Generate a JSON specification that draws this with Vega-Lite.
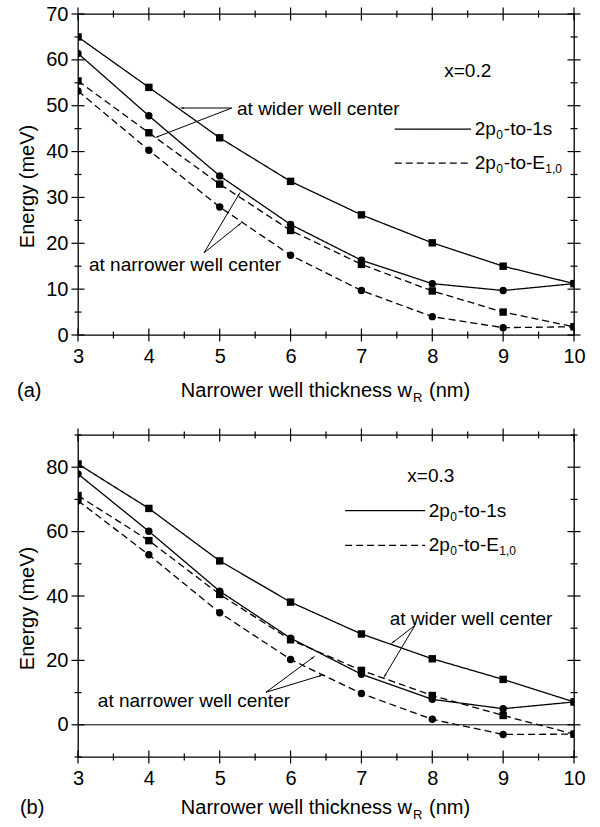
{
  "$schema": "https://vega.github.io/schema/vega-lite/v6.json",
  "padding": {"left": 16, "top": 3, "right": 5, "bottom": 5},
  "bounds": "flush",
  "spacing": 100,
  "config": {
    "view": {"stroke": "black", "strokeWidth": 1.3},
    "axis": {"labelFont": "Liberation Sans", "titleFont": "Liberation Sans", "labelFontSize": 20, "titleFontSize": 20, "titleFontWeight": "normal", "labelColor": "black", "titleColor": "black", "grid": false, "domain": false, "ticks": false},
    "text": {"font": "Liberation Sans", "color": "black"}
  },
  "datasets": {
    "xticks": [
      {"v": 3, "kind": "major"}, {"v": 3.5, "kind": "minor"}, {"v": 4, "kind": "major"}, {"v": 4.5, "kind": "minor"},
      {"v": 5, "kind": "major"}, {"v": 5.5, "kind": "minor"}, {"v": 6, "kind": "major"}, {"v": 6.5, "kind": "minor"},
      {"v": 7, "kind": "major"}, {"v": 7.5, "kind": "minor"}, {"v": 8, "kind": "major"}, {"v": 8.5, "kind": "minor"},
      {"v": 9, "kind": "major"}, {"v": 9.5, "kind": "minor"}, {"v": 10, "kind": "major"}
    ],
    "yticksA": [
      {"v": 0, "kind": "major"}, {"v": 5, "kind": "minor"}, {"v": 10, "kind": "major"}, {"v": 15, "kind": "minor"},
      {"v": 20, "kind": "major"}, {"v": 25, "kind": "minor"}, {"v": 30, "kind": "major"}, {"v": 35, "kind": "minor"},
      {"v": 40, "kind": "major"}, {"v": 45, "kind": "minor"}, {"v": 50, "kind": "major"}, {"v": 55, "kind": "minor"},
      {"v": 60, "kind": "major"}, {"v": 65, "kind": "minor"}, {"v": 70, "kind": "major"}
    ],
    "yticksB": [
      {"v": -10, "kind": "minor"}, {"v": 0, "kind": "major"}, {"v": 10, "kind": "minor"}, {"v": 20, "kind": "major"},
      {"v": 30, "kind": "minor"}, {"v": 40, "kind": "major"}, {"v": 50, "kind": "minor"}, {"v": 60, "kind": "major"},
      {"v": 70, "kind": "minor"}, {"v": 80, "kind": "major"}, {"v": 90, "kind": "minor"}
    ],
    "seriesA": [
      {"w": 3, "E": 65.0, "center": "wider", "transition": "2p0-to-1s"},
      {"w": 4, "E": 54.0, "center": "wider", "transition": "2p0-to-1s"},
      {"w": 5, "E": 43.0, "center": "wider", "transition": "2p0-to-1s"},
      {"w": 6, "E": 33.5, "center": "wider", "transition": "2p0-to-1s"},
      {"w": 7, "E": 26.2, "center": "wider", "transition": "2p0-to-1s"},
      {"w": 8, "E": 20.1, "center": "wider", "transition": "2p0-to-1s"},
      {"w": 9, "E": 15.0, "center": "wider", "transition": "2p0-to-1s"},
      {"w": 10, "E": 11.2, "center": "wider", "transition": "2p0-to-1s"},
      {"w": 3, "E": 61.4, "center": "narrower", "transition": "2p0-to-1s"},
      {"w": 4, "E": 47.8, "center": "narrower", "transition": "2p0-to-1s"},
      {"w": 5, "E": 34.7, "center": "narrower", "transition": "2p0-to-1s"},
      {"w": 6, "E": 24.1, "center": "narrower", "transition": "2p0-to-1s"},
      {"w": 7, "E": 16.3, "center": "narrower", "transition": "2p0-to-1s"},
      {"w": 8, "E": 11.2, "center": "narrower", "transition": "2p0-to-1s"},
      {"w": 9, "E": 9.7, "center": "narrower", "transition": "2p0-to-1s"},
      {"w": 10, "E": 11.2, "center": "narrower", "transition": "2p0-to-1s"},
      {"w": 3, "E": 55.4, "center": "wider", "transition": "2p0-to-E1,0"},
      {"w": 4, "E": 44.1, "center": "wider", "transition": "2p0-to-E1,0"},
      {"w": 5, "E": 32.9, "center": "wider", "transition": "2p0-to-E1,0"},
      {"w": 6, "E": 22.8, "center": "wider", "transition": "2p0-to-E1,0"},
      {"w": 7, "E": 15.4, "center": "wider", "transition": "2p0-to-E1,0"},
      {"w": 8, "E": 9.6, "center": "wider", "transition": "2p0-to-E1,0"},
      {"w": 9, "E": 5.0, "center": "wider", "transition": "2p0-to-E1,0"},
      {"w": 10, "E": 1.8, "center": "wider", "transition": "2p0-to-E1,0"},
      {"w": 3, "E": 53.2, "center": "narrower", "transition": "2p0-to-E1,0"},
      {"w": 4, "E": 40.3, "center": "narrower", "transition": "2p0-to-E1,0"},
      {"w": 5, "E": 27.9, "center": "narrower", "transition": "2p0-to-E1,0"},
      {"w": 6, "E": 17.4, "center": "narrower", "transition": "2p0-to-E1,0"},
      {"w": 7, "E": 9.7, "center": "narrower", "transition": "2p0-to-E1,0"},
      {"w": 8, "E": 4.0, "center": "narrower", "transition": "2p0-to-E1,0"},
      {"w": 9, "E": 1.6, "center": "narrower", "transition": "2p0-to-E1,0"},
      {"w": 10, "E": 1.8, "center": "narrower", "transition": "2p0-to-E1,0"}
    ],
    "seriesB": [
      {"w": 3, "E": 81.0, "center": "wider", "transition": "2p0-to-1s"},
      {"w": 4, "E": 67.2, "center": "wider", "transition": "2p0-to-1s"},
      {"w": 5, "E": 50.9, "center": "wider", "transition": "2p0-to-1s"},
      {"w": 6, "E": 38.1, "center": "wider", "transition": "2p0-to-1s"},
      {"w": 7, "E": 28.2, "center": "wider", "transition": "2p0-to-1s"},
      {"w": 8, "E": 20.5, "center": "wider", "transition": "2p0-to-1s"},
      {"w": 9, "E": 14.1, "center": "wider", "transition": "2p0-to-1s"},
      {"w": 10, "E": 7.1, "center": "wider", "transition": "2p0-to-1s"},
      {"w": 3, "E": 77.9, "center": "narrower", "transition": "2p0-to-1s"},
      {"w": 4, "E": 60.1, "center": "narrower", "transition": "2p0-to-1s"},
      {"w": 5, "E": 41.5, "center": "narrower", "transition": "2p0-to-1s"},
      {"w": 6, "E": 26.9, "center": "narrower", "transition": "2p0-to-1s"},
      {"w": 7, "E": 15.7, "center": "narrower", "transition": "2p0-to-1s"},
      {"w": 8, "E": 7.9, "center": "narrower", "transition": "2p0-to-1s"},
      {"w": 9, "E": 5.0, "center": "narrower", "transition": "2p0-to-1s"},
      {"w": 10, "E": 7.1, "center": "narrower", "transition": "2p0-to-1s"},
      {"w": 3, "E": 71.2, "center": "wider", "transition": "2p0-to-E1,0"},
      {"w": 4, "E": 57.2, "center": "wider", "transition": "2p0-to-E1,0"},
      {"w": 5, "E": 40.5, "center": "wider", "transition": "2p0-to-E1,0"},
      {"w": 6, "E": 26.4, "center": "wider", "transition": "2p0-to-E1,0"},
      {"w": 7, "E": 16.9, "center": "wider", "transition": "2p0-to-E1,0"},
      {"w": 8, "E": 9.1, "center": "wider", "transition": "2p0-to-E1,0"},
      {"w": 9, "E": 2.9, "center": "wider", "transition": "2p0-to-E1,0"},
      {"w": 10, "E": -2.9, "center": "wider", "transition": "2p0-to-E1,0"},
      {"w": 3, "E": 69.6, "center": "narrower", "transition": "2p0-to-E1,0"},
      {"w": 4, "E": 52.8, "center": "narrower", "transition": "2p0-to-E1,0"},
      {"w": 5, "E": 34.8, "center": "narrower", "transition": "2p0-to-E1,0"},
      {"w": 6, "E": 20.3, "center": "narrower", "transition": "2p0-to-E1,0"},
      {"w": 7, "E": 9.7, "center": "narrower", "transition": "2p0-to-E1,0"},
      {"w": 8, "E": 1.7, "center": "narrower", "transition": "2p0-to-E1,0"},
      {"w": 9, "E": -3.0, "center": "narrower", "transition": "2p0-to-E1,0"},
      {"w": 10, "E": -2.9, "center": "narrower", "transition": "2p0-to-E1,0"}
    ]
  },
  "vconcat": [
    {
      "width": 496, "height": 321,
      "layer": [
        {
          "data": {"name": "seriesA"},
          "mark": {"type": "line", "color": "black", "strokeWidth": 1.3, "clip": true},
          "encoding": {
            "x": {"field": "w", "type": "quantitative", "scale": {"domain": [3, 10], "nice": false, "zero": false},
              "axis": {"orient": "bottom", "title": null, "format": "d", "values": [3, 4, 5, 6, 7, 8, 9, 10], "labelPadding": 11.5, "labelFlush": false, "labelOverlap": false}},
            "y": {"field": "E", "type": "quantitative", "scale": {"domain": [0, 70], "nice": false, "zero": false},
              "axis": {"orient": "left", "title": "Energy (meV)", "titleY": 172, "titlePadding": 8, "values": [0, 10, 20, 30, 40, 50, 60, 70], "labelPadding": 10, "labelFlush": false, "labelOverlap": false}},
            "strokeDash": {"field": "transition", "type": "nominal", "scale": {"domain": ["2p0-to-1s", "2p0-to-E1,0"], "range": [[1, 0], [7, 4]]}, "legend": null},
            "detail": {"field": "center"}
          }
        },
        {
          "data": {"name": "seriesA"},
          "mark": {"type": "point", "filled": true, "color": "black", "opacity": 1, "size": 55, "clip": true},
          "encoding": {
            "x": {"field": "w", "type": "quantitative", "scale": {"domain": [3, 10]}},
            "y": {"field": "E", "type": "quantitative", "scale": {"domain": [0, 70]}},
            "shape": {"field": "center", "type": "nominal", "scale": {"domain": ["wider", "narrower"], "range": ["square", "circle"]}, "legend": null}
          }
        },
        {
          "data": {"name": "xticks"},
          "layer": [
            {"mark": {"type": "tick", "orient": "vertical", "thickness": 1.2, "color": "black", "opacity": 1},
             "encoding": {"x": {"field": "v", "type": "quantitative", "scale": {"domain": [3, 10]}}, "y": {"datum": 0, "type": "quantitative", "scale": {"domain": [0, 70]}}, "size": {"field": "kind", "type": "ordinal", "scale": {"domain": ["major", "minor"], "range": [13, 7]}, "legend": null}}},
            {"mark": {"type": "tick", "orient": "vertical", "thickness": 1.2, "color": "black", "opacity": 1},
             "encoding": {"x": {"field": "v", "type": "quantitative", "scale": {"domain": [3, 10]}}, "y": {"datum": 70, "type": "quantitative", "scale": {"domain": [0, 70]}}, "size": {"field": "kind", "type": "ordinal", "scale": {"domain": ["major", "minor"], "range": [13, 7]}, "legend": null}}}
          ]
        },
        {
          "data": {"name": "yticksA"},
          "layer": [
            {"mark": {"type": "tick", "orient": "horizontal", "thickness": 1.2, "color": "black", "opacity": 1},
             "encoding": {"y": {"field": "v", "type": "quantitative", "scale": {"domain": [0, 70]}}, "x": {"datum": 3, "type": "quantitative", "scale": {"domain": [3, 10]}}, "size": {"field": "kind", "type": "ordinal", "scale": {"domain": ["major", "minor"], "range": [13, 7]}, "legend": null}}},
            {"mark": {"type": "tick", "orient": "horizontal", "thickness": 1.2, "color": "black", "opacity": 1},
             "encoding": {"y": {"field": "v", "type": "quantitative", "scale": {"domain": [0, 70]}}, "x": {"datum": 10, "type": "quantitative", "scale": {"domain": [3, 10]}}, "size": {"field": "kind", "type": "ordinal", "scale": {"domain": ["major", "minor"], "range": [13, 7]}, "legend": null}}}
          ]
        },
        {
          "data": {"values": [
            {"x": 7.47, "x2": 8.546, "y": 44.9, "transition": "2p0-to-1s"},
            {"x": 7.47, "x2": 8.546, "y": 37.5, "transition": "2p0-to-E1,0"}
          ]},
          "mark": {"type": "rule", "color": "black", "strokeWidth": 1.2},
          "encoding": {
            "x": {"field": "x", "type": "quantitative", "scale": {"domain": [3, 10]}},
            "x2": {"field": "x2"},
            "y": {"field": "y", "type": "quantitative", "scale": {"domain": [0, 70]}},
            "strokeDash": {"field": "transition", "type": "nominal", "scale": {"domain": ["2p0-to-1s", "2p0-to-E1,0"], "range": [[1, 0], [7, 4]]}, "legend": null}
          }
        },
        {
          "data": {"values": [
            {"x": 8.60, "y": 44.9, "head": "2p", "sub": "0", "tail": "-to-1s", "sub2": ""},
            {"x": 8.60, "y": 37.5, "head": "2p", "sub": "0", "tail": "-to-E", "sub2": "1,0"}
          ]},
          "layer": [
            {"mark": {"type": "text", "align": "left", "baseline": "middle", "fontSize": 19},
             "encoding": {"x": {"field": "x", "type": "quantitative", "scale": {"domain": [3, 10]}}, "y": {"field": "y", "type": "quantitative", "scale": {"domain": [0, 70]}}, "text": {"field": "head"}}},
            {"mark": {"type": "text", "align": "left", "baseline": "middle", "fontSize": 12, "dx": 21.5, "dy": 6},
             "encoding": {"x": {"field": "x", "type": "quantitative", "scale": {"domain": [3, 10]}}, "y": {"field": "y", "type": "quantitative", "scale": {"domain": [0, 70]}}, "text": {"field": "sub"}}},
            {"mark": {"type": "text", "align": "left", "baseline": "middle", "fontSize": 19, "dx": 29},
             "encoding": {"x": {"field": "x", "type": "quantitative", "scale": {"domain": [3, 10]}}, "y": {"field": "y", "type": "quantitative", "scale": {"domain": [0, 70]}}, "text": {"field": "tail"}}},
            {"mark": {"type": "text", "align": "left", "baseline": "middle", "fontSize": 12, "dx": 70.5, "dy": 6},
             "encoding": {"x": {"field": "x", "type": "quantitative", "scale": {"domain": [3, 10]}}, "y": {"field": "y", "type": "quantitative", "scale": {"domain": [0, 70]}}, "text": {"field": "sub2"}}}
          ]
        },
        {
          "data": {"values": [{"x": 8.50, "y": 57.6, "label": "x=0.2"}]},
          "mark": {"type": "text", "align": "center", "baseline": "middle", "fontSize": 19},
          "encoding": {"x": {"field": "x", "type": "quantitative", "scale": {"domain": [3, 10]}}, "y": {"field": "y", "type": "quantitative", "scale": {"domain": [0, 70]}}, "text": {"field": "label"}}
        },
        {
          "data": {"values": [
            {"x": 5.244, "y": 49.3, "label": "at wider well center"},
            {"x": 3.155, "y": 15.3, "label": "at narrower well center"}
          ]},
          "mark": {"type": "text", "align": "left", "baseline": "middle", "fontSize": 19},
          "encoding": {"x": {"field": "x", "type": "quantitative", "scale": {"domain": [3, 10]}}, "y": {"field": "y", "type": "quantitative", "scale": {"domain": [0, 70]}}, "text": {"field": "label"}}
        },
        {
          "data": {"values": [
            {"x": 5.17, "y": 49.5, "x2": 4.468, "y2": 49.5, "heading": 270},
            {"x": 5.17, "y": 49.5, "x2": 4.115, "y2": 43.2, "heading": 249},
            {"x": 4.778, "y": 17.9, "x2": 5.272, "y2": 30.7, "heading": 31},
            {"x": 4.778, "y": 17.9, "x2": 5.286, "y2": 24.2, "heading": 51}
          ]},
          "layer": [
            {"mark": {"type": "rule", "color": "black", "strokeWidth": 1},
             "encoding": {"x": {"field": "x", "type": "quantitative", "scale": {"domain": [3, 10]}}, "y": {"field": "y", "type": "quantitative", "scale": {"domain": [0, 70]}}, "x2": {"field": "x2"}, "y2": {"field": "y2"}}},
            {"mark": {"type": "point", "shape": "wedge", "filled": true, "color": "black", "opacity": 1, "size": 40},
             "encoding": {"x": {"field": "x2", "type": "quantitative", "scale": {"domain": [3, 10]}}, "y": {"field": "y2", "type": "quantitative", "scale": {"domain": [0, 70]}}, "angle": {"field": "heading", "type": "quantitative", "scale": null}}}
          ]
        },
        {
          "data": {"values": [{"x": 7.714, "y": -12.2, "main": "Narrower well thickness w", "sub": "R", "unit": "(nm)", "tag_x": 2.139, "tag": "(a)"}]},
          "layer": [
            {"mark": {"type": "text", "align": "right", "baseline": "middle", "fontSize": 20},
             "encoding": {"x": {"field": "x", "type": "quantitative", "scale": {"domain": [3, 10]}}, "y": {"field": "y", "type": "quantitative", "scale": {"domain": [0, 70]}}, "text": {"field": "main"}}},
            {"mark": {"type": "text", "align": "left", "baseline": "middle", "fontSize": 13, "dx": 1, "dy": 7},
             "encoding": {"x": {"field": "x", "type": "quantitative", "scale": {"domain": [3, 10]}}, "y": {"field": "y", "type": "quantitative", "scale": {"domain": [0, 70]}}, "text": {"field": "sub"}}},
            {"mark": {"type": "text", "align": "left", "baseline": "middle", "fontSize": 20, "dx": 17},
             "encoding": {"x": {"field": "x", "type": "quantitative", "scale": {"domain": [3, 10]}}, "y": {"field": "y", "type": "quantitative", "scale": {"domain": [0, 70]}}, "text": {"field": "unit"}}},
            {"mark": {"type": "text", "align": "left", "baseline": "middle", "fontSize": 20},
             "encoding": {"x": {"field": "tag_x", "type": "quantitative", "scale": {"domain": [3, 10]}}, "y": {"field": "y", "type": "quantitative", "scale": {"domain": [0, 70]}}, "text": {"field": "tag"}}}
          ]
        }
      ]
    },
    {
      "width": 496, "height": 322,
      "layer": [
        {
          "data": {"name": "seriesB"},
          "mark": {"type": "line", "color": "black", "strokeWidth": 1.3, "clip": true},
          "encoding": {
            "x": {"field": "w", "type": "quantitative", "scale": {"domain": [3, 10], "nice": false, "zero": false},
              "axis": {"orient": "bottom", "title": null, "format": "d", "values": [3, 4, 5, 6, 7, 8, 9, 10], "labelPadding": 11.5, "labelFlush": false, "labelOverlap": false}},
            "y": {"field": "E", "type": "quantitative", "scale": {"domain": [-10, 90], "nice": false, "zero": false},
              "axis": {"orient": "left", "title": "Energy (meV)", "titleY": 173, "titlePadding": 8, "values": [0, 20, 40, 60, 80], "labelPadding": 10, "labelFlush": false, "labelOverlap": false}},
            "strokeDash": {"field": "transition", "type": "nominal", "scale": {"domain": ["2p0-to-1s", "2p0-to-E1,0"], "range": [[1, 0], [7, 4]]}, "legend": null},
            "detail": {"field": "center"}
          }
        },
        {
          "data": {"values": [{"E": 0}]},
          "mark": {"type": "rule", "color": "black", "strokeWidth": 1},
          "encoding": {"y": {"field": "E", "type": "quantitative", "scale": {"domain": [-10, 90]}}}
        },
        {
          "data": {"name": "seriesB"},
          "mark": {"type": "point", "filled": true, "color": "black", "opacity": 1, "size": 55, "clip": true},
          "encoding": {
            "x": {"field": "w", "type": "quantitative", "scale": {"domain": [3, 10]}},
            "y": {"field": "E", "type": "quantitative", "scale": {"domain": [-10, 90]}},
            "shape": {"field": "center", "type": "nominal", "scale": {"domain": ["wider", "narrower"], "range": ["square", "circle"]}, "legend": null}
          }
        },
        {
          "data": {"name": "xticks"},
          "layer": [
            {"mark": {"type": "tick", "orient": "vertical", "thickness": 1.2, "color": "black", "opacity": 1},
             "encoding": {"x": {"field": "v", "type": "quantitative", "scale": {"domain": [3, 10]}}, "y": {"datum": -10, "type": "quantitative", "scale": {"domain": [-10, 90]}}, "size": {"field": "kind", "type": "ordinal", "scale": {"domain": ["major", "minor"], "range": [13, 7]}, "legend": null}}},
            {"mark": {"type": "tick", "orient": "vertical", "thickness": 1.2, "color": "black", "opacity": 1},
             "encoding": {"x": {"field": "v", "type": "quantitative", "scale": {"domain": [3, 10]}}, "y": {"datum": 90, "type": "quantitative", "scale": {"domain": [-10, 90]}}, "size": {"field": "kind", "type": "ordinal", "scale": {"domain": ["major", "minor"], "range": [13, 7]}, "legend": null}}}
          ]
        },
        {
          "data": {"name": "yticksB"},
          "layer": [
            {"mark": {"type": "tick", "orient": "horizontal", "thickness": 1.2, "color": "black", "opacity": 1},
             "encoding": {"y": {"field": "v", "type": "quantitative", "scale": {"domain": [-10, 90]}}, "x": {"datum": 3, "type": "quantitative", "scale": {"domain": [3, 10]}}, "size": {"field": "kind", "type": "ordinal", "scale": {"domain": ["major", "minor"], "range": [13, 7]}, "legend": null}}},
            {"mark": {"type": "tick", "orient": "horizontal", "thickness": 1.2, "color": "black", "opacity": 1},
             "encoding": {"y": {"field": "v", "type": "quantitative", "scale": {"domain": [-10, 90]}}, "x": {"datum": 10, "type": "quantitative", "scale": {"domain": [3, 10]}}, "size": {"field": "kind", "type": "ordinal", "scale": {"domain": ["major", "minor"], "range": [13, 7]}, "legend": null}}}
          ]
        },
        {
          "data": {"values": [
            {"x": 6.77, "x2": 7.90, "y": 66.5, "transition": "2p0-to-1s"},
            {"x": 6.77, "x2": 7.90, "y": 55.7, "transition": "2p0-to-E1,0"}
          ]},
          "mark": {"type": "rule", "color": "black", "strokeWidth": 1.2},
          "encoding": {
            "x": {"field": "x", "type": "quantitative", "scale": {"domain": [3, 10]}},
            "x2": {"field": "x2"},
            "y": {"field": "y", "type": "quantitative", "scale": {"domain": [-10, 90]}},
            "strokeDash": {"field": "transition", "type": "nominal", "scale": {"domain": ["2p0-to-1s", "2p0-to-E1,0"], "range": [[1, 0], [7, 4]]}, "legend": null}
          }
        },
        {
          "data": {"values": [
            {"x": 7.95, "y": 66.5, "head": "2p", "sub": "0", "tail": "-to-1s", "sub2": ""},
            {"x": 7.95, "y": 55.7, "head": "2p", "sub": "0", "tail": "-to-E", "sub2": "1,0"}
          ]},
          "layer": [
            {"mark": {"type": "text", "align": "left", "baseline": "middle", "fontSize": 19},
             "encoding": {"x": {"field": "x", "type": "quantitative", "scale": {"domain": [3, 10]}}, "y": {"field": "y", "type": "quantitative", "scale": {"domain": [-10, 90]}}, "text": {"field": "head"}}},
            {"mark": {"type": "text", "align": "left", "baseline": "middle", "fontSize": 12, "dx": 21.5, "dy": 6},
             "encoding": {"x": {"field": "x", "type": "quantitative", "scale": {"domain": [3, 10]}}, "y": {"field": "y", "type": "quantitative", "scale": {"domain": [-10, 90]}}, "text": {"field": "sub"}}},
            {"mark": {"type": "text", "align": "left", "baseline": "middle", "fontSize": 19, "dx": 29},
             "encoding": {"x": {"field": "x", "type": "quantitative", "scale": {"domain": [3, 10]}}, "y": {"field": "y", "type": "quantitative", "scale": {"domain": [-10, 90]}}, "text": {"field": "tail"}}},
            {"mark": {"type": "text", "align": "left", "baseline": "middle", "fontSize": 12, "dx": 70.5, "dy": 6},
             "encoding": {"x": {"field": "x", "type": "quantitative", "scale": {"domain": [3, 10]}}, "y": {"field": "y", "type": "quantitative", "scale": {"domain": [-10, 90]}}, "text": {"field": "sub2"}}}
          ]
        },
        {
          "data": {"values": [{"x": 7.98, "y": 77.4, "label": "x=0.3"}]},
          "mark": {"type": "text", "align": "center", "baseline": "middle", "fontSize": 19},
          "encoding": {"x": {"field": "x", "type": "quantitative", "scale": {"domain": [3, 10]}}, "y": {"field": "y", "type": "quantitative", "scale": {"domain": [-10, 90]}}, "text": {"field": "label"}}
        },
        {
          "data": {"values": [
            {"x": 7.40, "y": 33.0, "label": "at wider well center"},
            {"x": 3.28, "y": 7.3, "label": "at narrower well center"}
          ]},
          "mark": {"type": "text", "align": "left", "baseline": "middle", "fontSize": 19},
          "encoding": {"x": {"field": "x", "type": "quantitative", "scale": {"domain": [3, 10]}}, "y": {"field": "y", "type": "quantitative", "scale": {"domain": [-10, 90]}}, "text": {"field": "label"}}
        },
        {
          "data": {"values": [
            {"x": 7.756, "y": 30.9, "x2": 7.445, "y2": 25.6, "heading": 232},
            {"x": 7.756, "y": 30.9, "x2": 7.332, "y2": 15.3, "heading": 211},
            {"x": 5.653, "y": 10.1, "x2": 6.316, "y2": 20.9, "heading": 53},
            {"x": 5.653, "y": 10.1, "x2": 6.429, "y2": 15.3, "heading": 73}
          ]},
          "layer": [
            {"mark": {"type": "rule", "color": "black", "strokeWidth": 1},
             "encoding": {"x": {"field": "x", "type": "quantitative", "scale": {"domain": [3, 10]}}, "y": {"field": "y", "type": "quantitative", "scale": {"domain": [-10, 90]}}, "x2": {"field": "x2"}, "y2": {"field": "y2"}}},
            {"mark": {"type": "point", "shape": "wedge", "filled": true, "color": "black", "opacity": 1, "size": 40},
             "encoding": {"x": {"field": "x2", "type": "quantitative", "scale": {"domain": [3, 10]}}, "y": {"field": "y2", "type": "quantitative", "scale": {"domain": [-10, 90]}}, "angle": {"field": "heading", "type": "quantitative", "scale": null}}}
          ]
        },
        {
          "data": {"values": [{"x": 7.714, "y": -25.9, "main": "Narrower well thickness w", "sub": "R", "unit": "(nm)", "tag_x": 2.18, "tag": "(b)"}]},
          "layer": [
            {"mark": {"type": "text", "align": "right", "baseline": "middle", "fontSize": 20},
             "encoding": {"x": {"field": "x", "type": "quantitative", "scale": {"domain": [3, 10]}}, "y": {"field": "y", "type": "quantitative", "scale": {"domain": [-10, 90]}}, "text": {"field": "main"}}},
            {"mark": {"type": "text", "align": "left", "baseline": "middle", "fontSize": 13, "dx": 1, "dy": 7},
             "encoding": {"x": {"field": "x", "type": "quantitative", "scale": {"domain": [3, 10]}}, "y": {"field": "y", "type": "quantitative", "scale": {"domain": [-10, 90]}}, "text": {"field": "sub"}}},
            {"mark": {"type": "text", "align": "left", "baseline": "middle", "fontSize": 20, "dx": 17},
             "encoding": {"x": {"field": "x", "type": "quantitative", "scale": {"domain": [3, 10]}}, "y": {"field": "y", "type": "quantitative", "scale": {"domain": [-10, 90]}}, "text": {"field": "unit"}}},
            {"mark": {"type": "text", "align": "left", "baseline": "middle", "fontSize": 20},
             "encoding": {"x": {"field": "tag_x", "type": "quantitative", "scale": {"domain": [3, 10]}}, "y": {"field": "y", "type": "quantitative", "scale": {"domain": [-10, 90]}}, "text": {"field": "tag"}}}
          ]
        }
      ]
    }
  ]
}
